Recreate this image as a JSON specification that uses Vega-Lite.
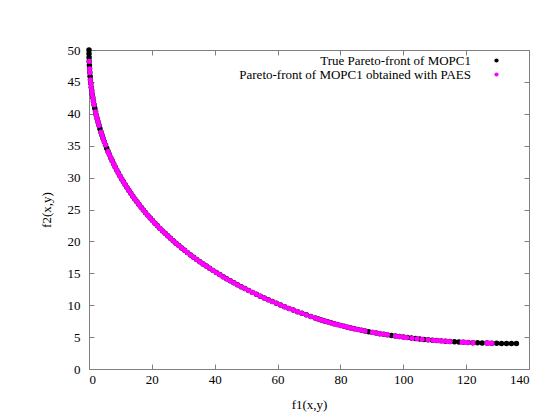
{
  "$schema": "https://vega.github.io/schema/vega-lite/v6.json",
  "width": 440,
  "height": 319,
  "autosize": {"type": "none"},
  "padding": {"left": 89, "top": 50, "right": 30, "bottom": 49},
  "background": "white",
  "config": {
    "view": {"stroke": "#808080", "strokeWidth": 1},
    "font": "Liberation Serif",
    "axis": {
      "grid": false,
      "domain": false,
      "tickColor": "#808080",
      "tickSize": -5,
      "labelFont": "Liberation Serif",
      "labelFontSize": 13,
      "labelColor": "#000000",
      "titleFont": "Liberation Serif",
      "titleFontSize": 13,
      "titleFontWeight": "normal",
      "titleColor": "#000000"
    }
  },
  "datasets": {
    "truefront": [
      {"f1":0,"f2":50},{"f1":0.01,"f2":49.40},{"f1":0.03,"f2":48.81},{"f1":0.06,"f2":48.22},{"f1":0.12,"f2":47.63},{"f1":0.18,"f2":47.05},{"f1":0.26,"f2":46.46},{"f1":0.35,"f2":45.89},{"f1":0.46,"f2":45.32},{"f1":0.58,"f2":44.75},{"f1":0.72,"f2":44.18},{"f1":0.87,"f2":43.62},{"f1":1.04,"f2":43.06},{"f1":1.22,"f2":42.50},{"f1":1.41,"f2":41.95},{"f1":1.62,"f2":41.41},{"f1":1.84,"f2":40.86},{"f1":2.08,"f2":40.32},{"f1":2.33,"f2":39.78},{"f1":2.60,"f2":39.25},{"f1":2.88,"f2":38.72},{"f1":3.18,"f2":38.19},{"f1":3.48,"f2":37.67},{"f1":3.81,"f2":37.15},{"f1":4.15,"f2":36.64},{"f1":4.5,"f2":36.13},{"f1":4.87,"f2":35.62},{"f1":5.25,"f2":35.11},{"f1":5.64,"f2":34.61},{"f1":6.06,"f2":34.11},{"f1":6.48,"f2":33.62},{"f1":6.92,"f2":33.13},{"f1":7.37,"f2":32.64},{"f1":7.84,"f2":32.16},{"f1":8.32,"f2":31.68},{"f1":8.82,"f2":31.21},{"f1":9.33,"f2":30.73},{"f1":9.86,"f2":30.26},{"f1":10.40,"f2":29.80},{"f1":10.95,"f2":29.34},{"f1":11.52,"f2":28.88},{"f1":12.10,"f2":28.43},{"f1":12.70,"f2":27.98},{"f1":13.31,"f2":27.53},{"f1":13.94,"f2":27.08},{"f1":14.58,"f2":26.65},{"f1":15.24,"f2":26.21},{"f1":15.90,"f2":25.78},{"f1":16.59,"f2":25.35},{"f1":17.29,"f2":24.92},{"f1":18.0,"f2":24.5},{"f1":18.73,"f2":24.08},{"f1":19.47,"f2":23.67},{"f1":20.22,"f2":23.26},{"f1":21.00,"f2":22.85},{"f1":21.78,"f2":22.45},{"f1":22.58,"f2":22.04},{"f1":23.39,"f2":21.65},{"f1":24.22,"f2":21.26},{"f1":25.06,"f2":20.87},{"f1":25.92,"f2":20.48},{"f1":26.79,"f2":20.10},{"f1":27.68,"f2":19.72},{"f1":28.58,"f2":19.34},{"f1":29.49,"f2":18.97},{"f1":30.42,"f2":18.61},{"f1":31.36,"f2":18.24},{"f1":32.32,"f2":17.88},{"f1":33.29,"f2":17.52},{"f1":34.28,"f2":17.17},{"f1":35.28,"f2":16.82},{"f1":36.30,"f2":16.47},{"f1":37.32,"f2":16.13},{"f1":38.37,"f2":15.79},{"f1":39.43,"f2":15.46},{"f1":40.5,"f2":15.13},{"f1":41.59,"f2":14.80},{"f1":42.69,"f2":14.47},{"f1":43.80,"f2":14.15},{"f1":44.94,"f2":13.83},{"f1":46.08,"f2":13.52},{"f1":47.24,"f2":13.21},{"f1":48.41,"f2":12.90},{"f1":49.60,"f2":12.60},{"f1":50.80,"f2":12.30},{"f1":52.02,"f2":12.01},{"f1":53.25,"f2":11.71},{"f1":54.50,"f2":11.42},{"f1":55.76,"f2":11.14},{"f1":57.03,"f2":10.86},{"f1":58.32,"f2":10.58},{"f1":59.62,"f2":10.31},{"f1":60.94,"f2":10.04},{"f1":62.27,"f2":9.77},{"f1":63.62,"f2":9.50},{"f1":64.98,"f2":9.25},{"f1":66.36,"f2":8.99},{"f1":67.74,"f2":8.74},{"f1":69.15,"f2":8.49},{"f1":70.57,"f2":8.24},{"f1":72,"f2":8},
      {"f1":72.97,"f2":7.84},{"f1":73.95,"f2":7.69},{"f1":74.94,"f2":7.53},{"f1":75.94,"f2":7.39},{"f1":76.96,"f2":7.24},{"f1":77.99,"f2":7.10},{"f1":79.03,"f2":6.96},{"f1":80.09,"f2":6.82},{"f1":81.16,"f2":6.69},{"f1":82.24,"f2":6.56},{"f1":83.33,"f2":6.43},{"f1":84.44,"f2":6.31},{"f1":85.56,"f2":6.19},{"f1":86.69,"f2":6.07},{"f1":87.84,"f2":5.96},{"f1":89.00,"f2":5.85},{"f1":90.17,"f2":5.74},{"f1":91.35,"f2":5.64},{"f1":92.55,"f2":5.54},{"f1":93.76,"f2":5.44},{"f1":94.98,"f2":5.35},{"f1":96.22,"f2":5.25},{"f1":97.47,"f2":5.17},{"f1":98.73,"f2":5.08},{"f1":100,"f2":5},{"f1":101.29,"f2":4.92},{"f1":102.59,"f2":4.85},{"f1":103.90,"f2":4.77},{"f1":105.22,"f2":4.71},{"f1":106.56,"f2":4.64},{"f1":107.91,"f2":4.58},{"f1":109.27,"f2":4.52},{"f1":110.65,"f2":4.46},{"f1":112.04,"f2":4.41},{"f1":113.44,"f2":4.36},{"f1":114.85,"f2":4.31},{"f1":116.28,"f2":4.27},{"f1":117.72,"f2":4.23},{"f1":119.17,"f2":4.19},{"f1":120.64,"f2":4.16},{"f1":122.12,"f2":4.13},{"f1":123.61,"f2":4.10},{"f1":125.11,"f2":4.08},{"f1":126.63,"f2":4.06},{"f1":128.16,"f2":4.04},{"f1":129.70,"f2":4.03},{"f1":131.26,"f2":4.01},{"f1":132.83,"f2":4.01},{"f1":134.41,"f2":4.00},{"f1":136,"f2":4}
    ],
    "paes": [
      {"f1":0.06,"f2":48.22},{"f1":0.18,"f2":47.05},{"f1":0.26,"f2":46.46},{"f1":0.46,"f2":45.32},{"f1":0.58,"f2":44.75},{"f1":0.72,"f2":44.18},{"f1":0.87,"f2":43.62},{"f1":1.04,"f2":43.06},{"f1":1.22,"f2":42.50},{"f1":1.41,"f2":41.95},{"f1":1.62,"f2":41.41},{"f1":2.08,"f2":40.32},{"f1":2.33,"f2":39.78},{"f1":2.60,"f2":39.25},{"f1":2.88,"f2":38.72},{"f1":3.18,"f2":38.19},{"f1":3.81,"f2":37.15},{"f1":4.15,"f2":36.64},{"f1":4.5,"f2":36.13},{"f1":4.87,"f2":35.62},{"f1":5.25,"f2":35.11},{"f1":6.06,"f2":34.11},{"f1":6.48,"f2":33.62},{"f1":6.92,"f2":33.13},{"f1":7.37,"f2":32.64},{"f1":7.84,"f2":32.16},{"f1":8.32,"f2":31.68},{"f1":8.82,"f2":31.21},{"f1":9.33,"f2":30.73},{"f1":9.86,"f2":30.26},{"f1":10.40,"f2":29.80},{"f1":10.95,"f2":29.34},{"f1":11.52,"f2":28.88},{"f1":12.10,"f2":28.43},{"f1":12.70,"f2":27.98},{"f1":13.31,"f2":27.53},{"f1":13.94,"f2":27.08},{"f1":14.58,"f2":26.65},{"f1":15.24,"f2":26.21},{"f1":15.90,"f2":25.78},{"f1":16.59,"f2":25.35},{"f1":17.29,"f2":24.92},{"f1":18.0,"f2":24.5},{"f1":18.73,"f2":24.08},{"f1":19.47,"f2":23.67},{"f1":20.22,"f2":23.26},{"f1":21.00,"f2":22.85},{"f1":21.78,"f2":22.45},{"f1":22.58,"f2":22.04},{"f1":23.39,"f2":21.65},{"f1":24.22,"f2":21.26},{"f1":25.06,"f2":20.87},{"f1":25.92,"f2":20.48},{"f1":26.79,"f2":20.10},{"f1":27.68,"f2":19.72},{"f1":28.58,"f2":19.34},{"f1":29.49,"f2":18.97},{"f1":30.42,"f2":18.61},{"f1":31.36,"f2":18.24},{"f1":32.32,"f2":17.88},{"f1":33.29,"f2":17.52},{"f1":34.28,"f2":17.17},{"f1":35.28,"f2":16.82},{"f1":36.30,"f2":16.47},{"f1":37.32,"f2":16.13},{"f1":38.37,"f2":15.79},{"f1":39.43,"f2":15.46},{"f1":40.5,"f2":15.13},{"f1":41.59,"f2":14.80},{"f1":42.69,"f2":14.47},{"f1":43.80,"f2":14.15},{"f1":44.94,"f2":13.83},{"f1":46.08,"f2":13.52},{"f1":47.24,"f2":13.21},{"f1":48.41,"f2":12.90},{"f1":49.60,"f2":12.60},{"f1":50.80,"f2":12.30},{"f1":52.02,"f2":12.01},{"f1":53.25,"f2":11.71},{"f1":54.50,"f2":11.42},{"f1":55.76,"f2":11.14},{"f1":57.03,"f2":10.86},{"f1":58.32,"f2":10.58},{"f1":59.62,"f2":10.31},{"f1":60.94,"f2":10.04},{"f1":62.27,"f2":9.77},{"f1":63.62,"f2":9.50},{"f1":64.98,"f2":9.25},{"f1":66.36,"f2":8.99},{"f1":67.74,"f2":8.74},{"f1":69.15,"f2":8.49},{"f1":70.57,"f2":8.24},{"f1":72,"f2":8},
      {"f1":72.97,"f2":7.84},{"f1":73.95,"f2":7.69},{"f1":74.94,"f2":7.53},{"f1":75.94,"f2":7.39},{"f1":76.96,"f2":7.24},{"f1":77.99,"f2":7.10},{"f1":79.03,"f2":6.96},{"f1":80.09,"f2":6.82},{"f1":81.16,"f2":6.69},{"f1":82.24,"f2":6.56},{"f1":83.33,"f2":6.43},{"f1":84.44,"f2":6.31},{"f1":85.56,"f2":6.19},{"f1":86.69,"f2":6.07},{"f1":87.84,"f2":5.96},{"f1":90.17,"f2":5.74},{"f1":91.35,"f2":5.64},{"f1":92.55,"f2":5.54},{"f1":93.76,"f2":5.44},{"f1":94.98,"f2":5.35},{"f1":97.47,"f2":5.17},{"f1":98.73,"f2":5.08},{"f1":100,"f2":5},{"f1":101.1,"f2":4.93},{"f1":102.8,"f2":4.83},{"f1":104.4,"f2":4.75},{"f1":106.0,"f2":4.67},{"f1":107.9,"f2":4.58},{"f1":109.5,"f2":4.51},{"f1":110.7,"f2":4.46},{"f1":111.5,"f2":4.43},{"f1":112.6,"f2":4.39},{"f1":113.9,"f2":4.34},{"f1":114.9,"f2":4.31},{"f1":118.7,"f2":4.21},{"f1":119.6,"f2":4.18},{"f1":120.6,"f2":4.16},{"f1":122.2,"f2":4.13},{"f1":126.6,"f2":4.06},{"f1":127.4,"f2":4.05},{"f1":128.2,"f2":4.04}
    ]
  },
  "layer": [
    {
      "data": {"name": "truefront"},
      "mark": {"type": "circle", "size": 30, "opacity": 1},
      "encoding": {
        "x": {
          "field": "f1", "type": "quantitative",
          "scale": {"domain": [0, 140], "nice": false, "zero": false},
          "axis": {"orient": "bottom", "values": [0, 20, 40, 60, 80, 100, 120, 140], "title": "f1(x,y)", "labelPadding": 9, "titlePadding": 12, "labelFont": "Liberation Serif", "titleFont": "Liberation Serif"}
        },
        "y": {
          "field": "f2", "type": "quantitative",
          "scale": {"domain": [0, 50], "nice": false, "zero": false},
          "axis": {"orient": "left", "values": [0, 5, 10, 15, 20, 25, 30, 35, 40, 45, 50], "title": "f2(x,y)", "labelPadding": 14, "titlePadding": 14, "labelFont": "Liberation Serif", "titleFont": "Liberation Serif"}
        },
        "color": {
          "datum": "True Pareto-front of MOPC1",
          "type": "nominal",
          "scale": {"domain": ["True Pareto-front of MOPC1", "Pareto-front of MOPC1 obtained with PAES"], "range": ["#000000", "#ff00ff"]},
          "legend": {
            "title": null,
            "orient": "none",
            "legendX": 0,
            "legendY": 4,
            "direction": "vertical",
            "symbolType": "circle",
            "symbolSize": 18,
            "symbolStrokeWidth": 0,
            "labelFont": "Liberation Serif",
            "labelFontSize": 13,
            "labelColor": "#000000",
            "labelLimit": 0,
            "labelAlign": "right",
            "labelOffset": -32,
            "symbolOffset": 401,
            "rowPadding": 0,
            "encode": {
              "symbols": {
                "update": {
                  "size": {"signal": "datum.value === 'True Pareto-front of MOPC1' ? 18 : 11"}
                }
              }
            }
          }
        }
      }
    },
    {
      "data": {"name": "paes"},
      "mark": {"type": "circle", "size": 26, "opacity": 1},
      "encoding": {
        "x": {
          "field": "f1", "type": "quantitative",
          "axis": {"orient": "top", "values": [0, 20, 40, 60, 80, 100, 120, 140], "labels": false, "title": null}
        },
        "y": {
          "field": "f2", "type": "quantitative",
          "axis": {"orient": "right", "values": [0, 5, 10, 15, 20, 25, 30, 35, 40, 45, 50], "labels": false, "title": null}
        },
        "color": {"datum": "Pareto-front of MOPC1 obtained with PAES", "type": "nominal"}
      }
    }
  ],
  "resolve": {"axis": {"x": "independent", "y": "independent"}}
}
